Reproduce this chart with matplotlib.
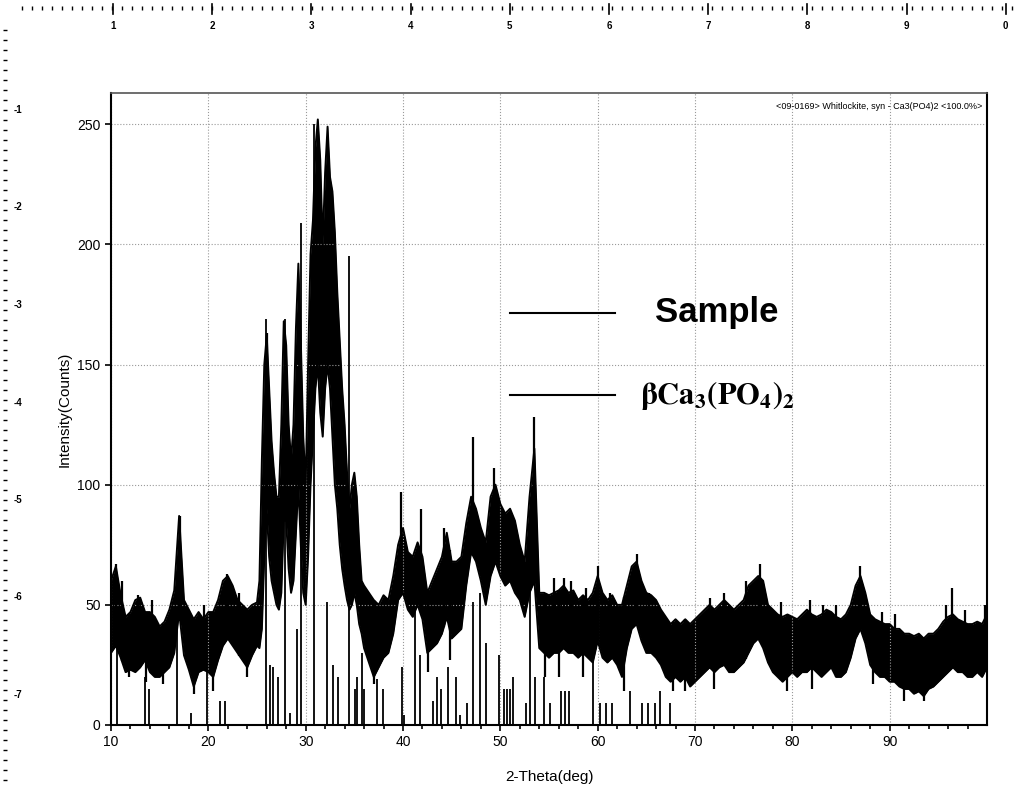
import numpy as np
import matplotlib.pyplot as plt
from matplotlib.lines import Line2D

plt.rcParams['font.family'] = ['Liberation Sans', 'DejaVu Sans']

sample_theta = [10.0, 10.5, 11.0, 11.5, 12.0, 12.5, 13.0, 13.5, 14.0, 14.5, 15.0, 15.5, 16.0, 16.5,
                17.0, 17.5, 18.0, 18.5, 19.0, 19.5, 20.0, 20.5, 21.0, 21.5, 22.0, 22.5, 23.0, 23.5,
                24.0, 24.5, 25.0,
                25.25, 25.5, 25.75, 26.0, 26.25, 26.5, 26.75, 27.0, 27.25, 27.5, 27.75, 28.0, 28.25,
                28.5, 28.75, 29.0, 29.25, 29.5, 29.75, 30.0, 30.25, 30.5, 30.75, 31.0, 31.25, 31.5,
                31.75, 32.0, 32.25, 32.5, 32.75, 33.0, 33.25, 33.5, 33.75, 34.0, 34.25, 34.5, 34.75,
                35.0, 35.25, 35.5, 35.75, 36.0,
                36.5, 37.0, 37.5, 38.0, 38.5, 39.0, 39.5, 40.0, 40.5, 41.0, 41.5, 42.0, 42.5, 43.0,
                43.5, 44.0, 44.5, 45.0, 45.5, 46.0, 46.5, 47.0, 47.5, 48.0, 48.5, 49.0, 49.5, 50.0,
                50.5, 51.0, 51.5, 52.0, 52.5, 53.0, 53.5, 54.0, 54.5, 55.0, 55.5, 56.0, 56.5, 57.0,
                57.5, 58.0, 58.5, 59.0, 59.5, 60.0, 60.5, 61.0, 61.5, 62.0, 62.5, 63.0, 63.5, 64.0,
                64.5, 65.0, 65.5, 66.0, 66.5, 67.0, 67.5, 68.0, 68.5, 69.0, 69.5, 70.0, 70.5, 71.0,
                71.5, 72.0, 72.5, 73.0, 73.5, 74.0, 74.5, 75.0, 75.5, 76.0, 76.5, 77.0, 77.5, 78.0,
                78.5, 79.0, 79.5, 80.0, 80.5, 81.0, 81.5, 82.0, 82.5, 83.0, 83.5, 84.0, 84.5, 85.0,
                85.5, 86.0, 86.5, 87.0, 87.5, 88.0, 88.5, 89.0, 89.5, 90.0, 90.5, 91.0, 91.5, 92.0,
                92.5, 93.0, 93.5, 94.0, 94.5, 95.0, 95.5, 96.0, 96.5, 97.0, 97.5, 98.0, 98.5, 99.0,
                99.5, 100.0]
sample_hi = [60, 66, 54, 45, 47, 52, 53, 47, 47, 45, 41, 43, 48, 56,
             87, 52, 48, 44, 47, 44, 47, 47, 52, 60, 62, 58, 52, 50,
             48, 50, 51,
             60, 110, 150, 162, 140, 118, 105, 95, 95, 125, 168, 158, 125,
             110, 125, 165, 192, 160, 120, 100, 150, 196, 210, 240, 252, 235,
             200, 230, 249, 228, 222, 205, 180, 160, 140, 125, 105, 90, 100,
             105, 95, 75, 60, 58,
             55, 52, 50, 54, 52, 62, 75, 82, 72, 70, 76, 70, 55, 60,
             65, 70, 80, 68, 68, 70, 84, 95, 90, 82, 76, 95, 100, 92,
             88, 90, 85, 75, 68, 95, 115, 55, 55, 54, 55, 56, 58, 55,
             56, 52, 54, 52, 55, 62, 55, 52, 54, 50, 50, 58, 66, 68,
             60, 55, 54, 52, 48, 45, 42, 44, 42, 44, 42, 44, 46, 48,
             50, 48, 50, 52, 50, 48, 50, 52, 58, 60, 62, 60, 50, 48,
             46, 45, 46, 45, 44, 46, 48, 46, 45, 46, 48, 47, 45, 44,
             46, 50, 58, 62, 55, 46, 44, 43, 42, 42, 40, 40, 38, 38,
             37, 38, 36, 38, 38, 40, 43, 45, 46, 44, 43, 42, 42, 43,
             42, 46]
sample_lo = [30, 33, 28, 22, 23, 22, 24, 27, 22, 20, 20, 22, 24, 30,
             47, 29, 23, 16, 22, 23, 22, 20, 27, 33, 36, 33, 30, 27,
             24, 29, 33,
             32, 40, 70, 90, 70, 60, 55, 50, 48, 55, 85, 85, 65,
             55, 60, 80, 100, 75, 55, 50, 70, 100, 120, 140, 150, 130,
             120, 140, 150, 140, 120, 100, 90, 75, 65, 58, 52, 48, 50,
             55, 50, 42, 38, 32,
             26, 20, 24, 28, 30, 38, 52, 55, 48, 45, 50, 44, 30, 32,
             34, 38, 45, 36, 38, 40, 58, 72, 68, 60, 50, 62, 68, 62,
             58, 60, 55, 52, 45, 55, 60, 32, 30, 28, 30, 30, 32, 30,
             30, 28, 30, 28, 26, 35, 28, 26, 28, 25, 20, 32, 40, 42,
             35, 30, 30, 28, 25, 20, 18, 20, 18, 20, 16, 18, 20, 22,
             24, 22, 24, 25, 22, 22, 24, 26, 30, 34, 36, 32, 26, 22,
             20, 18, 20, 22, 20, 22, 22, 24, 22, 20, 22, 24, 20, 20,
             22, 28, 36, 40, 34, 25, 22, 20, 20, 18, 18, 16, 15, 15,
             13, 14, 12, 15, 16, 18, 20, 22, 24, 22, 22, 20, 20, 22,
             20, 24]

# isolated spikes / dips sticking out of the band
spike_theta = [10.5, 11.1, 12.8, 14.2, 17.1, 19.6, 21.9, 23.2, 26.0, 39.8, 41.8, 44.2, 47.2,
               49.4, 53.5, 55.5, 56.5, 57.3, 58.8, 60.0, 61.3, 63.8, 64.0, 65.3, 71.5, 73.0,
               75.2, 76.7, 78.8, 81.8, 83.2, 84.5, 87.0, 89.2, 90.5, 95.8, 96.4, 97.7, 99.8]
spike_top = [67, 60, 54, 52, 87, 50, 63, 55, 163, 97, 90, 82, 120,
             107, 128, 61, 61, 60, 57, 66, 55, 64, 71, 55, 53, 55,
             60, 67, 51, 52, 50, 50, 66, 47, 46, 50, 57, 48, 50]
dip_theta = [11.8, 13.6, 15.3, 18.5, 20.5, 24.0, 37.0, 42.6, 44.8, 54.6, 56.0, 58.5, 62.7,
             67.7, 69.0, 72.0, 79.5, 82.0, 88.3, 91.5, 93.5]
dip_bottom = [20, 18, 17, 13, 14, 20, 17, 22, 27, 20, 20, 20, 14,
              14, 14, 15, 14, 15, 17, 10, 10]

# reference sticks <09-0169> Whitlockite
ref_theta = [10.6, 13.5, 13.9, 16.8, 18.2, 19.9, 21.2, 21.7, 25.9, 26.3, 26.6, 27.2, 27.9, 28.4,
             29.1, 29.5, 30.9, 32.2, 32.8, 33.3, 34.5, 35.1, 35.3, 35.75, 36.0, 37.3, 37.9, 39.9,
             40.1, 41.2, 41.7, 43.1, 43.5, 43.9, 44.65, 45.4, 45.9, 46.6, 47.2, 47.9, 48.5, 49.9,
             50.4, 50.7, 51.0, 51.3, 52.6, 53.0, 53.55, 54.5, 55.1, 56.2, 56.6, 57.1, 59.5, 60.2,
             60.9, 61.5, 63.3, 64.6, 65.2, 65.9, 66.4, 67.4]
ref_int = [35, 20, 15, 42, 5, 23, 10, 10, 169, 25, 24, 20, 169, 5,
           40, 209, 250, 51, 25, 20, 195, 15, 20, 30, 15, 19, 15, 24,
           4, 48, 29, 10, 20, 15, 24, 20, 4, 9, 51, 55, 34, 29,
           15, 15, 15, 20, 9, 60, 20, 20, 9, 14, 14, 14, 27, 9,
           9, 9, 14, 9, 9, 9, 14, 9]

x_ticks = [10, 20, 30, 40, 50, 60, 70, 80, 90]
y_ticks = [0, 50, 100, 150, 200, 250]

fig = plt.figure(figsize=(10.21, 7.92), dpi=100)
ax = fig.add_axes([111 / 1021, 1 - 725 / 792, 876 / 1021, 632 / 792])

# sticks
ax.vlines(ref_theta, 0, ref_int, color='black', lw=1.3)

# sample trace
ax.fill_between(sample_theta, sample_lo, sample_hi, color='black', lw=0)
ax.plot(sample_theta, sample_hi, color='black', lw=1.4)
ax.plot(sample_theta, sample_lo, color='black', lw=1.4)
lo_at_spike = np.interp(spike_theta, sample_theta, sample_lo)
ax.vlines(spike_theta, lo_at_spike, spike_top, color='black', lw=1.6)
hi_at_dip = np.interp(dip_theta, sample_theta, sample_hi)
ax.vlines(dip_theta, dip_bottom, hi_at_dip, color='black', lw=1.6)

ax.set_xlim(10, 100)
ax.set_ylim(0, 263)
ax.set_xticks(x_ticks)
ax.set_xticks(np.arange(12, 100, 2), minor=True)
ax.set_yticks(y_ticks)
ax.tick_params(axis='both', which='both', direction='out', length=4, width=1.2, labelsize=10)
ax.tick_params(axis='x', which='minor', length=3)
ax.grid(True, which='major', linestyle=':', color='#9a9a9a', lw=0.8)
for s in ['left', 'bottom', 'right']:
    ax.spines[s].set_linewidth(1.5)
ax.spines['top'].set_color('#555555')
ax.spines['top'].set_linewidth(1.2)

ax.set_xlabel('2-Theta(deg)', fontsize=11, labelpad=15)
ax.set_ylabel('Intensity(Counts)', fontsize=11, labelpad=4)

ax.text(0.995, 0.985, '<09-0169> Whitlockite, syn - Ca3(PO4)2 <100.0%>', transform=ax.transAxes,
        ha='right', va='top', fontsize=6.5)

# legend drawn by hand, like the original
ax.add_line(Line2D([0.455, 0.575], [0.652, 0.652], transform=ax.transAxes, color='black', lw=1.5))
ax.text(0.621, 0.652, 'Sample', transform=ax.transAxes, ha='left', va='center',
        fontsize=25, fontweight='bold')
ax.add_line(Line2D([0.455, 0.575], [0.522, 0.522], transform=ax.transAxes, color='black', lw=1.5))
ax.text(0.604, 0.522, r'$\mathbf{\beta Ca_3(PO_4)_2}$', transform=ax.transAxes, ha='left',
        va='center', fontsize=22, math_fontfamily='stix')

# scanner ruler along the top and left edges
top_dots = np.arange(22, 1020, 10)
fig.add_artist(Line2D(top_dots / 1021, np.full(len(top_dots), 1 - 8 / 792), ls='none',
                      marker='|', ms=3, color='black', mew=1))
for k in range(10):
    xp = (113 + 99.2 * k) / 1021
    fig.add_artist(Line2D([xp, xp], [1 - 4 / 792, 1 - 14 / 792], color='black', lw=1.2))
    fig.text(xp, 1 - 26 / 792, str((k + 1) % 10), ha='center', va='center', fontsize=7,
             fontweight='bold')
left_dots = np.arange(30, 790, 10)
fig.add_artist(Line2D(np.full(len(left_dots), 5 / 1021), 1 - left_dots / 792, ls='none',
                      marker='_', ms=3, color='black', mew=1))
for k in range(7):
    yp = 1 - (110 + 97.5 * k) / 792
    fig.text(14 / 1021, yp, '-' + str(k + 1), ha='left', va='center', fontsize=7,
             fontweight='bold')

plt.savefig('out.png', dpi=100)
